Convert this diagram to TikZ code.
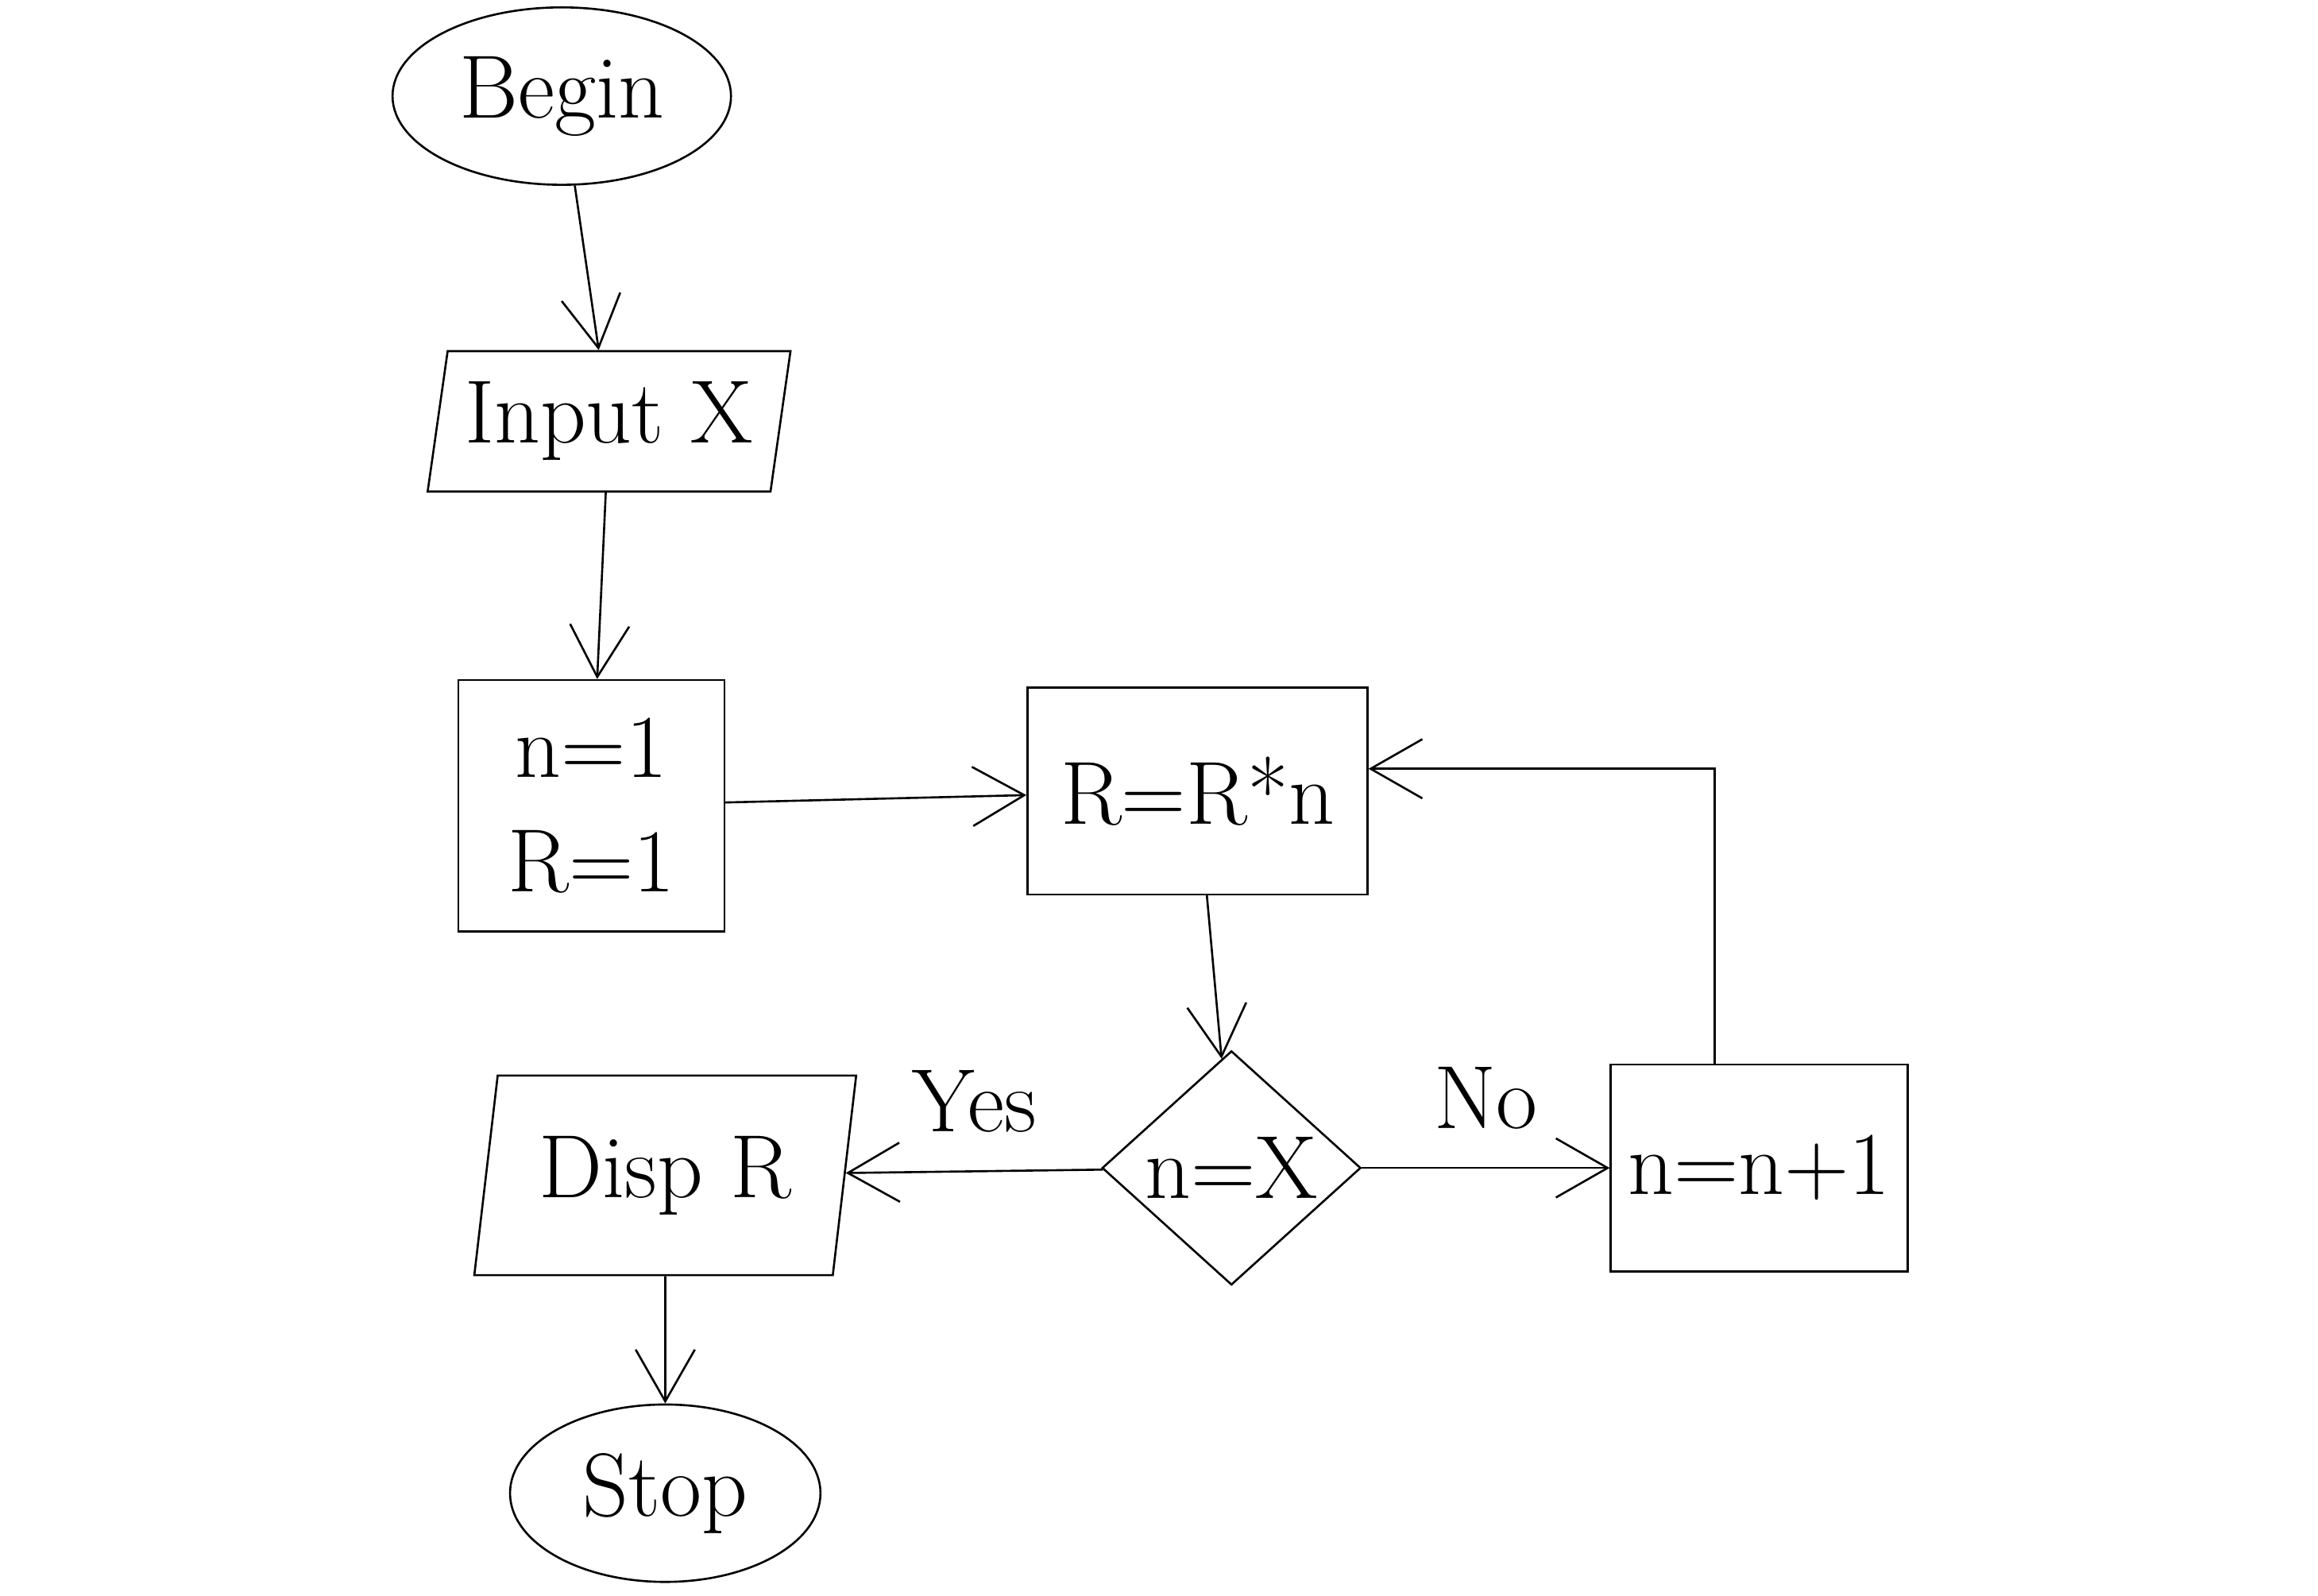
\documentclass[tikz,border=0pt]{standalone}
\usetikzlibrary{shapes.geometric,arrows.meta}

\tikzset{
  >={Straight Barb[length=3.5mm,width=4mm]},
  term/.style={ellipse,draw,minimum width=2.1cm,minimum height=1.2cm},
  proc/.style={rectangle,draw,align=center},
  io/.style={trapezium,draw,trapezium left angle=80,trapezium right angle=100,trapezium stretches=true},
  test/.style={diamond,draw,inner sep=0pt,minimum width=1.75cm,minimum height=1.47cm}
}

\begin{document}
\begin{tikzpicture}[font=\LARGE]

      \useasboundingbox (0,0) rectangle (15.68,10.79);

      \node[term] (begin) at (3.80,10.14) {Begin};
      \node[io,minimum width=2.4cm,minimum height=0.95cm] (input) at (4.12,7.94) {Input X};
      \node[proc,minimum width=1.8cm,minimum height=1.7cm] (init) at (4.00,5.34) {n=1\\R=1};
      \node[proc,minimum width=2.3cm,minimum height=1.4cm] (mult) at (8.10,5.44) {R=R*n};
      \node[test] (check) at (8.33,2.89) {n=X};
      \node[io,minimum width=2.6cm,minimum height=1.35cm] (disp) at (4.50,2.84) {Disp R};
      \node[proc,minimum width=1.95cm,minimum height=1.4cm] (incr) at (11.90,2.89) {n=n+1};
      \node[term] (stop) at (4.50,0.69) {Stop};

      \begin{scope}[every node/.style={above=4pt}]
        \path[->] (begin) edge (input);
        \path[->] (input) edge (init);
        \path[->] (init)  edge (mult);
        \path[->] (mult)  edge (check);
        \path[->] (check) edge node {Yes} (disp);
        \path[->] (check) edge node {No} (incr);
        \path[->] (disp)  edge (stop);
        \draw[->] ([xshift=-0.3cm]incr.north) |- ([yshift=0.15cm]mult.east);
      \end{scope}

    \end{tikzpicture}
\end{document}
